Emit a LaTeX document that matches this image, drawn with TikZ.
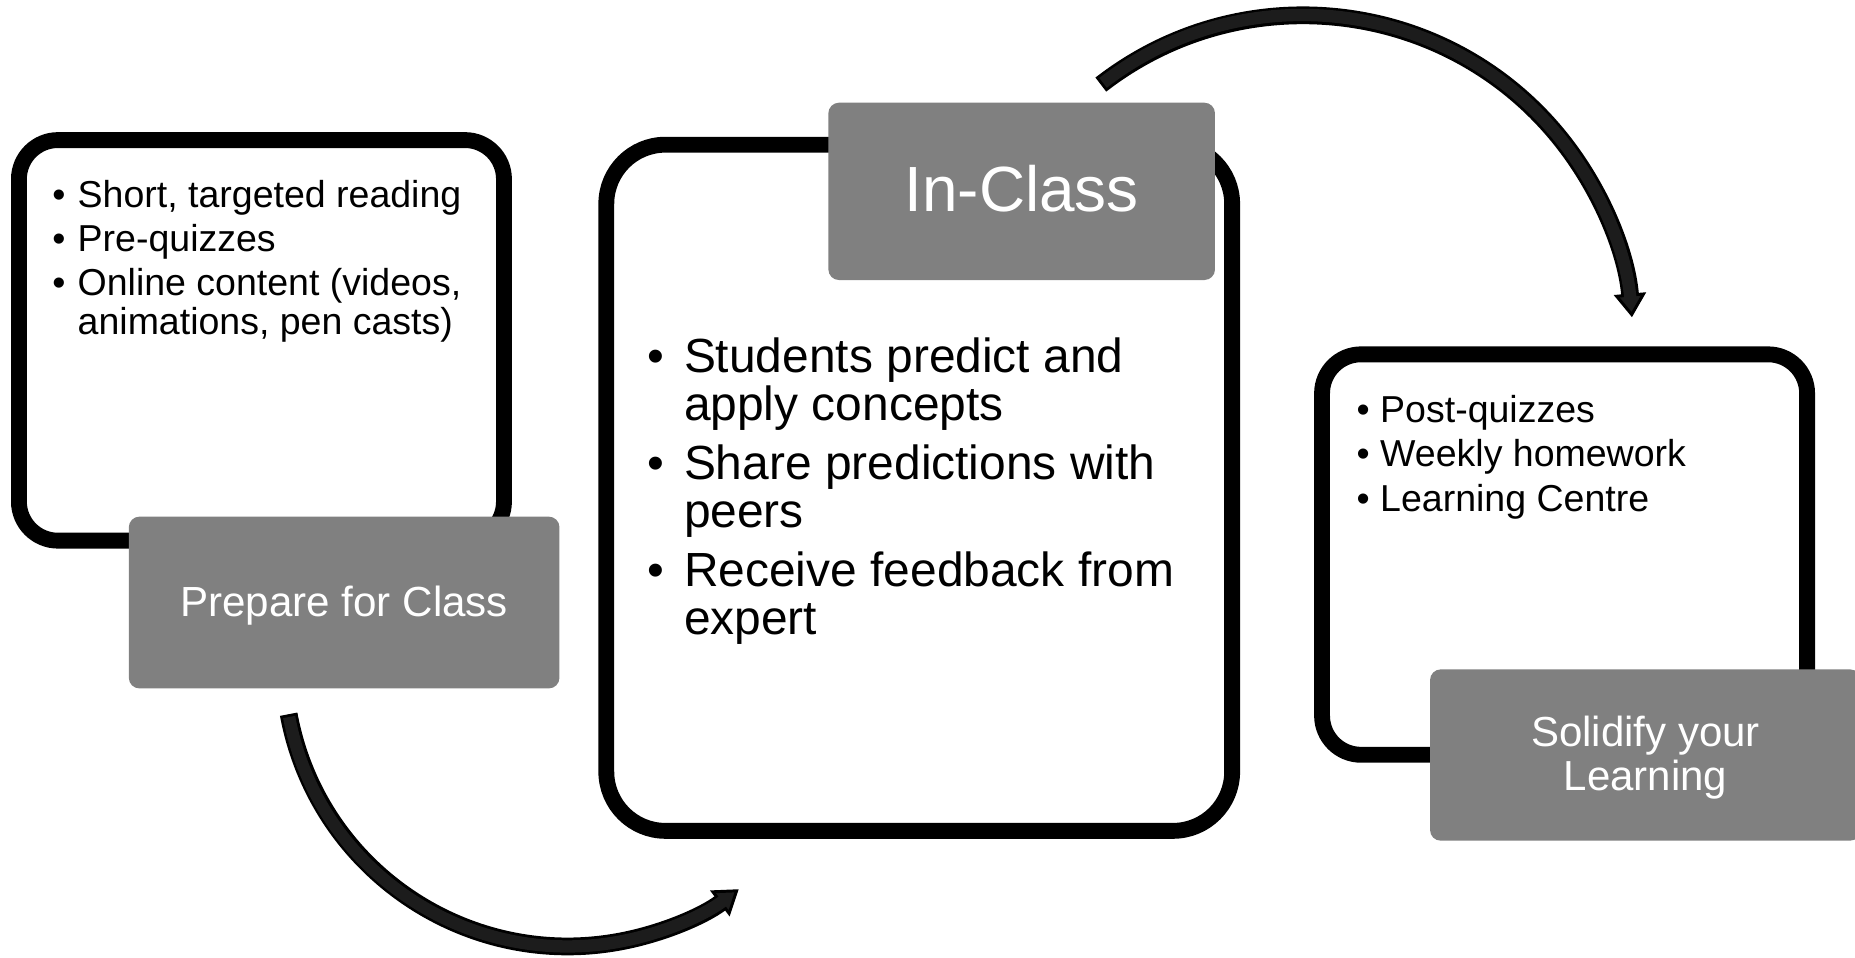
\documentclass[tikz,border=0pt]{standalone}
\usepackage{fontspec}
\setmainfont{Liberation Sans}
\usetikzlibrary{arrows.meta}
\definecolor{labelgray}{RGB}{128,128,128}
\definecolor{arrowfill}{RGB}{28,28,28}
\newcommand{\bulletbox}[1]{\makebox[#1][l]{\textbullet}}
\begin{document}
\begin{tikzpicture}[x=1pt,y=-1pt,
  panel/.style={draw=black, line width=13.4pt, fill=white, rounded corners=33pt, inner sep=0pt},
  tagbox/.style={fill=labelgray, rounded corners=9pt, inner sep=0pt},
  tagtext/.style={text=white, inner sep=0pt, align=center},
  listtxt/.style={anchor=base west, inner sep=0pt, text=black},
  smallfont/.style={font=\fontsize{31.7pt}{33pt}\selectfont},
  bigfont/.style={font=\fontsize{40.5pt}{41pt}\selectfont},
  curvearrow/.style={draw=black, line width=15pt, -{Triangle[length=20pt,width=27pt,line width=2.5pt,fill=arrowfill]}},
  curvecore/.style={draw=arrowfill, line width=10.4pt, shorten <=2.4pt, shorten >=16pt},
]
\useasboundingbox (0,0) rectangle (1568,809);
\fill[white] (0,0) rectangle (1568,809);

% white panels
\node[panel, minimum width=410pt, minimum height=338.6pt] (prep) at (221,287.7) {};
\node[panel, rounded corners=50pt, minimum width=529pt, minimum height=580pt] (incl) at (777,412.3) {};
\node[panel, minimum width=410pt, minimum height=338.5pt] (solid) at (1322.5,468.75) {};

% list in first panel
\node[listtxt, smallfont] (p1) at (44,175) {\bulletbox{21.5pt}Short, targeted reading};
\node[listtxt, smallfont] (p2) at (44,213) {\bulletbox{21.5pt}Pre-quizzes};
\node[listtxt, smallfont] (p3) at (44,250) {\bulletbox{21.5pt}Online content (videos,};
\node[listtxt, smallfont] (p3b) at (65.5,283) {animations, pen casts)};

% list in second panel
\node[listtxt, bigfont] (c1) at (547,314.5) {\bulletbox{31pt}Students predict and};
\node[listtxt, bigfont] (c1b) at (578,355.5) {apply concepts};
\node[listtxt, bigfont] (c2) at (547,405) {\bulletbox{31pt}Share predictions with};
\node[listtxt, bigfont] (c2b) at (578,446) {peers};
\node[listtxt, bigfont] (c3) at (547,495.5) {\bulletbox{31pt}Receive feedback from};
\node[listtxt, bigfont] (c3b) at (578,536.5) {expert};

% list in third panel
\node[listtxt, smallfont] (s1) at (1146.5,357) {\bulletbox{20pt}Post-quizzes};
\node[listtxt, smallfont] (s2) at (1146.5,394.5) {\bulletbox{20pt}Weekly homework};
\node[listtxt, smallfont] (s3) at (1146.5,432.5) {\bulletbox{20pt}Learning Centre};

% grey title tags
\node[tagbox, minimum width=364pt, minimum height=145.2pt] (prepT) at (290.9,509.3) {};
\node[tagtext, anchor=base, font=\fontsize{35.6pt}{40pt}\selectfont] (prepL) at (290.9,521) {Prepare for Class};

\node[tagbox, minimum width=326.8pt, minimum height=149.9pt] (inT) at (863.6,161.75) {};
\node[tagtext, anchor=base, font=\fontsize{54pt}{60pt}\selectfont] (inL) at (863.6,178.5) {In-Class};

\node[tagbox, minimum width=364pt, minimum height=144.8pt] (solidT) at (1390.8,638.2) {};
\node[tagtext, anchor=north, font=\fontsize{35.5pt}{36.6pt}\selectfont] (solidL) at (1390.8,605.3) {Solidify your\\Learning};

% curved arrows
\coordinate (a1s) at (244,603.7);
\coordinate (a2s) at (930.5,71.5);
\draw[curvearrow] (a1s) arc[start angle=190.5, end angle=307, radius=240pt];
\draw[curvecore] (a1s) arc[start angle=190.5, end angle=307, radius=240pt];
\draw[curvearrow] (a2s) arc[start angle=127.8, end angle=4.9, radius=279pt];
\draw[curvecore] (a2s) arc[start angle=127.8, end angle=4.9, radius=279pt];
\end{tikzpicture}
\end{document}
